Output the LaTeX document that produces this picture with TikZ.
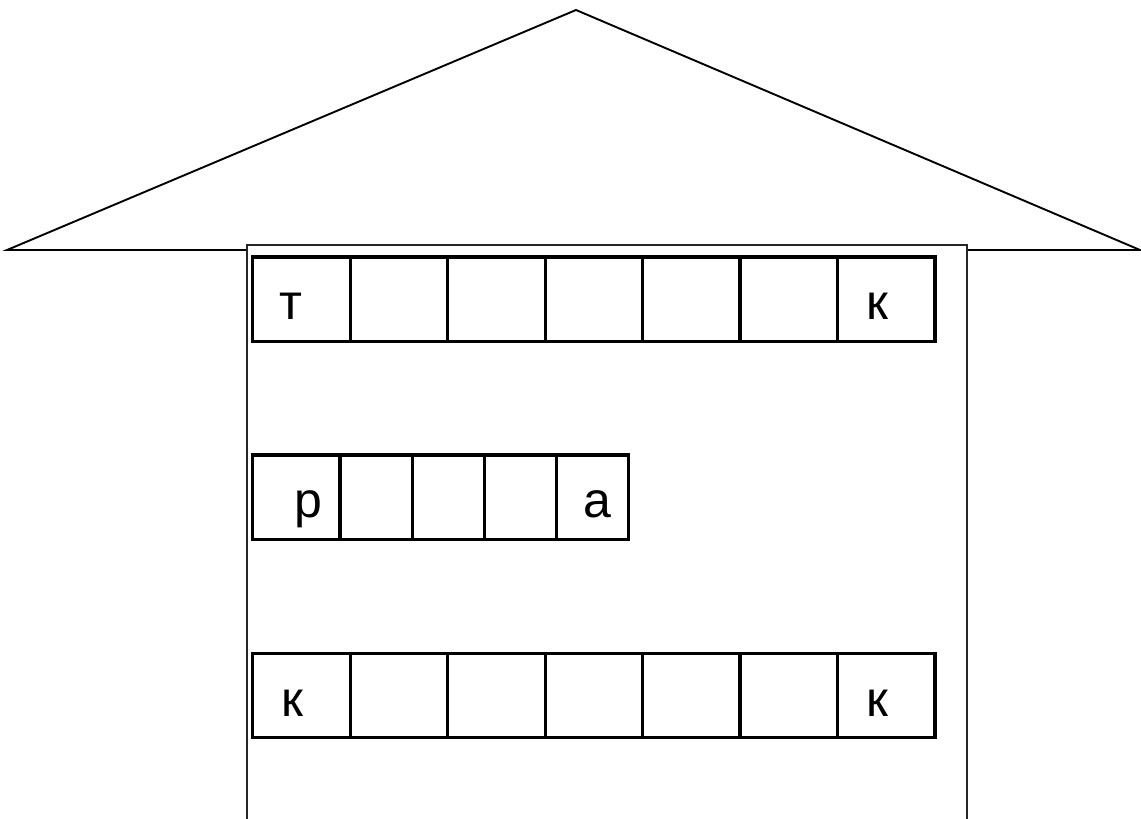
\documentclass[tikz,border=0pt]{standalone}
\usepackage{fontspec}
\setmainfont{Liberation Sans}
\begin{document}
\begin{tikzpicture}[x=1pt,y=-1pt,
  cellbox/.style={draw=black,line width=3.2pt,fill=none},
  letter/.style={anchor=base,inner sep=0pt,font=\fontsize{50}{52}\selectfont}]
\useasboundingbox (0,0) rectangle (1141,819);
% roof
\draw[line width=1.9pt,line join=miter] (7,250) -- (576,10) -- (1140,250) -- cycle;
% house body
\draw[line width=2.3pt,draw=black!85,fill=white] (247,832) -- (247,245) -- (967,245) -- (967,832);
% row 1
\foreach \i in {0,...,6} {
  \draw[cellbox] ({252.7+\i*97.47},257) rectangle ({252.7+(\i+1)*97.47},341.5);
}
% row 2
\draw[cellbox] (252.7,455) rectangle (340,539.5);
\foreach \i in {0,...,3} {
  \draw[cellbox] ({340+\i*72.1},455) rectangle ({340+(\i+1)*72.1},539.5);
}
% row 3
\foreach \i in {0,...,6} {
  \draw[cellbox] ({252.7+\i*97.47},653.5) rectangle ({252.7+(\i+1)*97.47},737.5);
}
% letters
\node[letter] (t1) at (291,319.5) {т};
\node[letter] (k1) at (877,319.5) {к};
\node[letter] (p2) at (308,517.5) {р};
\node[letter] (a2) at (597,517.5) {а};
\node[letter] (k3) at (292,716.5) {к};
\node[letter] (k4) at (877,716.5) {к};
\end{tikzpicture}
\end{document}
